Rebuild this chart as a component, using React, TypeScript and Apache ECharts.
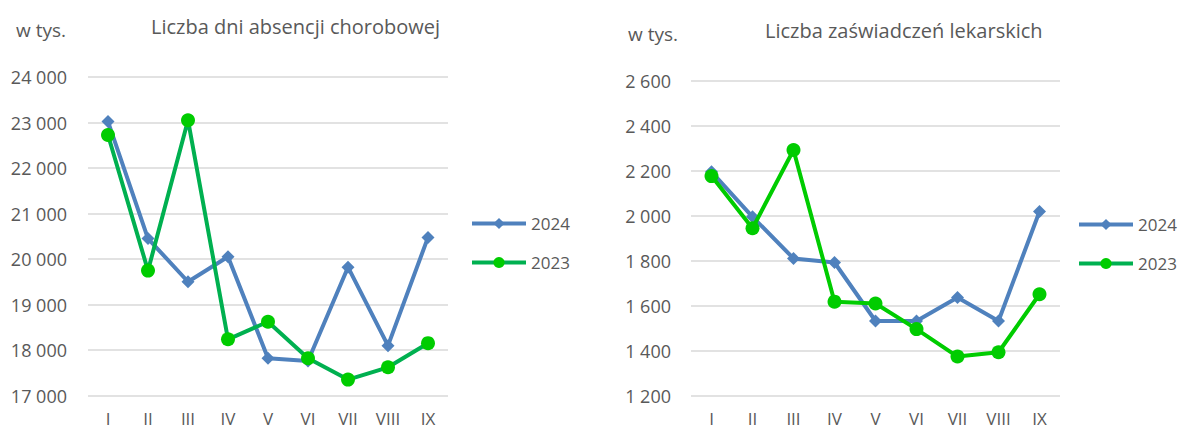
import React, { useEffect, useRef } from "react";
import * as echarts from "echarts";

const months = ["I", "II", "III", "IV", "V", "VI", "VII", "VIII", "IX"];
const daysTitle = "Liczba dni absencji chorobowej";
const certTitle = "Liczba zaświadczeń lekarskich";
const unitLabel = "w tys.";
const seriesNames = ["2024", "2023"];
const days2024 = [23020, 20450, 19500, 20050, 17820, 17760, 19820, 18095, 20475];
const days2023 = [22725, 19745, 23050, 18235, 18620, 17820, 17350, 17620, 18150];
const cert2024 = [2195, 1995, 1810, 1792, 1532, 1532, 1636, 1532, 2019];
const cert2023 = [2176, 1944, 2292, 1618, 1610, 1496, 1374, 1393, 1651];

const FONT = "'Open Sans', sans-serif";
const GREY = "#595959";
const BLUE = "#4f81bd";
const fmt = (v: number) => String(v).replace(/\B(?=(\d{3})+(?!\d))/g, " ");

export default function App() {
  const ref = useRef<HTMLDivElement>(null);
  useEffect(() => {
    const chart = echarts.init(ref.current!, null, { renderer: "svg" });
    const yAxisBase = {
      type: "value" as const,
      axisLine: { show: false },
      axisTick: { show: false },
      splitLine: { lineStyle: { color: "#d9d9d9", width: 1.5 } },
      axisLabel: { color: GREY, fontSize: 18, fontFamily: FONT, formatter: fmt },
    };
    const xAxisBase = {
      type: "category" as const,
      data: months,
      axisLine: { show: false },
      axisTick: { show: false },
      axisLabel: { color: GREY, fontSize: 17, fontFamily: FONT, margin: 14, interval: 0 },
    };
    const blueSeries = (data: number[], i: number) => ({
      name: seriesNames[0],
      type: "line" as const,
      xAxisIndex: i,
      yAxisIndex: i,
      data,
      symbol: "diamond",
      symbolSize: 13,
      lineStyle: { color: BLUE, width: 4 },
      itemStyle: { color: BLUE },
      z: 2,
    });
    const greenSeries = (data: number[], i: number, lineColor: string) => ({
      name: seriesNames[1],
      type: "line" as const,
      xAxisIndex: i,
      yAxisIndex: i,
      data,
      symbol: "circle",
      symbolSize: 14,
      lineStyle: { color: lineColor, width: 4 },
      itemStyle: { color: "#00cc00" },
      z: 3,
    });
    const titleStyle = { color: GREY, fontSize: 20, fontWeight: "normal" as const, fontFamily: FONT };
    const unitStyle = { color: GREY, fontSize: 19, fontWeight: "normal" as const, fontFamily: FONT };
    const legendBase = {
      data: seriesNames,
      orient: "vertical" as const,
      itemWidth: 54,
      itemHeight: 14,
      itemGap: 22,
      padding: 0,
      lineStyle: { width: 4 },
      textStyle: { color: GREY, fontSize: 17, fontFamily: FONT },
    };
    chart.setOption({
      animation: false,
      textStyle: { fontFamily: FONT },
      title: [
        { text: daysTitle, left: 146, top: 11, textStyle: titleStyle },
        { text: unitLabel, left: 11, top: 15, textStyle: unitStyle },
        { text: certTitle, left: 760, top: 15, textStyle: titleStyle },
        { text: unitLabel, left: 623, top: 19, textStyle: unitStyle },
      ],
      legend: [
        { ...legendBase, left: 470, top: 215 },
        { ...legendBase, left: 1077, top: 216 },
      ],
      grid: [
        { left: 88, top: 77, width: 360, height: 318.5 },
        { left: 691, top: 80.7, width: 369, height: 315 },
      ],
      xAxis: [
        { ...xAxisBase, gridIndex: 0 },
        { ...xAxisBase, gridIndex: 1 },
      ],
      yAxis: [
        { ...yAxisBase, gridIndex: 0, min: 17000, max: 24000, interval: 1000, axisLabel: { ...yAxisBase.axisLabel, margin: 21 } },
        { ...yAxisBase, gridIndex: 1, min: 1200, max: 2600, interval: 200, axisLabel: { ...yAxisBase.axisLabel, margin: 20 } },
      ],
      series: [
        blueSeries(days2024, 0),
        greenSeries(days2023, 0, "#00b050"),
        blueSeries(cert2024, 1),
        greenSeries(cert2023, 1, "#00cc00"),
      ],
    });
    return () => chart.dispose();
  }, []);
  return (
    <div
      ref={ref}
      style={{ position: "fixed", left: 0, top: 0, width: 1181, height: 430, background: "#fff" }}
    />
  );
}
